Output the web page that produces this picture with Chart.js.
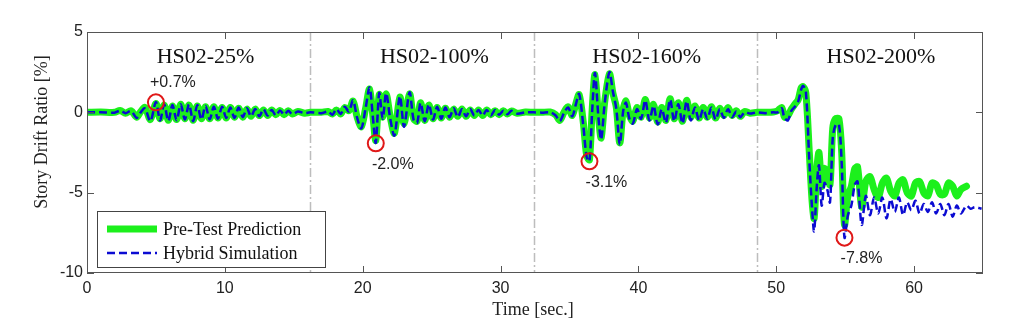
<!DOCTYPE html>
<html>
<head>
<meta charset="utf-8">
<script src="https://cdn.jsdelivr.net/npm/chart.js@4.4.1/dist/chart.umd.min.js"></script>
<style>
  html, body { margin: 0; padding: 0; background: #fff; }
</style>
</head>
<body>
<canvas id="driftChart" width="1024" height="322"></canvas>
<script>
// story drift time history (sec, %)
const timeSec = [
  0, 1.0, 2.0, 2.4, 2.8, 3.2, 3.6, 3.9, 4.2, 4.6,
  5.0, 5.3, 5.6, 5.9, 6.2, 6.5, 6.8, 7.1, 7.4, 7.7,
  8.0, 8.3, 8.6, 8.9, 9.2, 9.5, 9.8, 10.1, 10.4, 10.7,
  11.0, 11.3, 11.6, 11.9, 12.2, 12.5, 12.8, 13.1, 13.4, 13.7,
  14.0, 14.3, 14.6, 14.9, 15.3, 15.8, 16.2,
  17.0, 17.5, 17.8, 18.1, 18.4, 18.7, 19.0, 19.3, 19.6, 19.9,
  20.2, 20.5, 20.75, 20.95, 21.2, 21.45, 21.7, 22.0, 22.3, 22.7,
  23.0, 23.4, 23.7, 23.95, 24.2, 24.5, 24.8, 25.1, 25.4, 25.7,
  26.0, 26.3, 26.6, 26.9, 27.2, 27.5, 27.8, 28.1, 28.4, 28.7,
  29.0, 29.3, 29.6, 29.9, 30.2, 30.5, 30.8, 31.2, 31.8, 32.4,
  33.0, 33.6, 34.0, 34.3, 34.6, 34.9, 35.2, 35.45, 35.7, 36.0,
  36.25, 36.45, 36.65, 36.85, 37.1, 37.3, 37.55, 37.9, 38.15, 38.4,
  38.65, 38.9, 39.1, 39.35, 39.6, 39.9, 40.2, 40.5, 40.8, 41.1,
  41.4, 41.7, 42.0, 42.3, 42.6, 42.9, 43.2, 43.5, 43.8, 44.1,
  44.4, 44.7, 45.0, 45.3, 45.6, 45.9, 46.2, 46.5, 46.8, 47.1,
  47.4, 47.7, 48.1, 48.6,
  49.2, 49.8, 50.1, 50.4, 50.6, 50.85, 51.1, 51.35, 51.6, 51.8,
  51.95, 52.15, 52.4, 52.6, 52.75, 52.95, 53.1, 53.3, 53.5, 53.7,
  53.9, 54.1, 54.3, 54.55, 54.75, 54.95, 55.2, 55.45, 55.7, 55.9,
  56.2, 56.5, 56.8, 57.1, 57.4, 57.7, 58.0, 58.3, 58.6, 58.9,
  59.2, 59.5, 59.8, 60.1, 60.4, 60.7, 61.0, 61.3, 61.6, 61.9,
  62.2, 62.5, 62.8, 63.1, 63.4, 63.8, 64.1, 64.4, 64.9
];

const preTest = [
  0, 0.02, 0.0, 0.12, -0.05, 0.1, -0.3, 0.05, 0.3, -0.45,
  0.55, -0.4, 0.45, -0.5, 0.4, -0.45, 0.5, -0.4, 0.45, -0.5,
  0.4, -0.4, 0.35, -0.4, 0.35, -0.35, 0.3, -0.35, 0.3, -0.3,
  0.25, -0.3, 0.2, -0.25, 0.2, -0.2, 0.15, -0.2, 0.15, -0.15,
  0.12, -0.15, 0.1, -0.1, 0.05, -0.05, 0,
  0.0, 0.05, -0.1, 0.15, -0.1, 0.3, 0.1, 0.7, -0.3, -0.9,
  0.2, 1.45, -0.3, -1.75, 1.1, -0.3, 1.15, -0.3, -1.3, 0.95,
  -0.7, 1.15, -0.4, -0.55, 0.6, -0.5, 0.45, -0.4, 0.3, -0.35,
  0.25, -0.3, 0.2, -0.25, 0.2, -0.25, 0.15, -0.2, 0.15, -0.2,
  0.15, -0.15, 0.1, -0.15, 0.1, -0.1, 0.08, -0.05, 0.02, 0,
  0, 0.02, -0.15, -0.5, 0.0, 0.35, -0.2, 0.5, 1.1, -0.6,
  -2.7, -2.95, 0.2, 2.35, -0.2, -1.6, 0.6, 2.4, 1.2, 0.3,
  -1.9, 0.2, 0.7, -0.2, -0.55, 0.3, -0.3, 0.8, -0.35, 0.5,
  -0.6, 0.3, -0.5, 0.85, -0.4, 0.6, -0.55, 0.75, -0.3, 0.4,
  -0.35, 0.3, -0.3, 0.35, -0.35, 0.25, -0.2, 0.3, -0.2, 0.1,
  -0.25, 0.05, -0.05, 0,
  0, 0.02, 0.1, 0.3, -0.3, -0.2, 0.2, 0.5, 0.8, 1.5,
  1.6, 1.2, -2.5, -5.5, -6.6, -3.5, -2.5, -4.6, -3.5, -3.8,
  -4.5, -1.0, -0.4, -0.4, -2.5, -7.0, -5.2, -4.6, -3.5, -3.4,
  -5.9, -4.3, -4.0, -4.8, -5.3, -4.4, -4.1, -4.9, -5.2, -4.4,
  -4.2, -5.0, -5.2, -4.4, -4.3, -5.0, -5.2, -4.4, -4.5, -5.1,
  -5.1, -4.4, -4.6, -5.2, -4.8, -4.6, null, null, null
];

const hybridSim = [
  0, 0.0, -0.02, 0.1, -0.05, 0.08, -0.35, 0.0, 0.25, -0.55,
  0.65, -0.5, 0.5, -0.55, 0.45, -0.5, 0.5, -0.45, 0.5, -0.55,
  0.45, -0.45, 0.4, -0.45, 0.35, -0.4, 0.35, -0.35, 0.3, -0.35,
  0.3, -0.3, 0.25, -0.25, 0.2, -0.25, 0.2, -0.2, 0.15, -0.2,
  0.12, -0.15, 0.1, -0.12, 0.05, -0.05, 0,
  -0.05, 0.05, -0.15, 0.2, -0.1, 0.35, 0.05, 0.75, -0.35, -1.0,
  0.2, 1.55, -0.4, -1.9, 1.2, -0.4, 1.2, -0.4, -1.45, 1.0,
  -0.9, 1.25, -0.5, -0.65, 0.6, -0.55, 0.5, -0.45, 0.35, -0.4,
  0.3, -0.3, 0.25, -0.3, 0.2, -0.25, 0.2, -0.2, 0.15, -0.2,
  0.15, -0.2, 0.15, -0.15, 0.1, -0.12, 0.1, -0.08, 0.0, 0,
  -0.02, 0.0, -0.2, -0.55, -0.05, 0.3, -0.25, 0.45, 1.15, -0.8,
  -2.8, -3.05, 0.1, 2.45, -0.3, -1.7, 0.5, 2.5, 1.3, 0.2,
  -2.0, 0.1, 0.6, -0.4, -0.7, 0.2, -0.4, 0.75, -0.5, 0.4,
  -0.75, 0.2, -0.65, 0.8, -0.55, 0.5, -0.7, 0.7, -0.5, 0.3,
  -0.5, 0.2, -0.4, 0.3, -0.45, 0.2, -0.35, 0.2, -0.3, 0.05,
  -0.3, 0.0, -0.08, 0,
  -0.05, 0.0, 0.0, 0.25, -0.35, -0.5, 0.1, 0.35, 0.7, 1.4,
  1.65, 1.3, -3.0, -6.0, -7.4, -4.5, -3.3, -5.8, -4.4, -4.8,
  -5.6, -1.6, -0.8, -0.75, -3.2, -7.8, -6.4, -5.8, -4.5, -4.3,
  -7.0, -5.2, -6.4, -5.3, -6.3, -5.3, -6.6, -5.4, -6.2, -5.3,
  -6.4, -5.6, -6.1, -5.5, -6.3, -5.7, -6.2, -5.6, -6.3, -5.7,
  -6.4, -5.7, -6.5, -5.8, -6.3, -5.8, -6.0, -5.9, -6.0
];

// axis ticks
const xTicks = [0, 10, 20, 30, 40, 50, 60];
const yTicks = [-10, -5, 0, 5];

// test stages
const stageBounds = [16.2, 32.4, 48.6];
const stageNames = ["HS02-25%", "HS02-100%", "HS02-160%", "HS02-200%"];
const stageMid = [8.6, 25.2, 40.6, 57.6];

// marked peak drifts
const peakTime = [5.0, 20.95, 36.45, 54.95];
const peakValue = [0.62, -1.93, -3.05, -7.8];
const peakText = ["+0.7%", "-2.0%", "-3.1%", "-7.8%"];

const GREEN = "#1cf01c";
const BLUE = "#0b0bd2";
const SERIF = "'Liberation Serif', 'Times New Roman', serif";
const SANS = "'Liberation Sans', Arial, sans-serif";

// frame, stage separators, labels and legend drawn around the datasets
const figurePlugin = {
  id: "figure",
  beforeDatasetsDraw(chart) {
    const { ctx, chartArea: a, scales: { x } } = chart;
    ctx.save();
    ctx.strokeStyle = "#bdbdbd";
    ctx.lineWidth = 1.5;
    ctx.setLineDash([9, 3, 2, 3]);
    stageBounds.forEach((t) => {
      const px = Math.round(x.getPixelForValue(t)) + 0.5;
      ctx.beginPath();
      ctx.moveTo(px, a.top);
      ctx.lineTo(px, a.bottom);
      ctx.stroke();
    });
    ctx.restore();
  },
  afterDatasetsDraw(chart) {
    const { ctx, chartArea: a, scales: { x, y } } = chart;
    ctx.save();

    // box + inward ticks on all sides
    ctx.strokeStyle = "#555";
    ctx.lineWidth = 1;
    ctx.strokeRect(a.left + 0.5, a.top + 0.5, a.right - a.left - 1, a.bottom - a.top - 1);
    ctx.beginPath();
    xTicks.forEach((t) => {
      const px = Math.round(x.getPixelForValue(t)) + 0.5;
      ctx.moveTo(px, a.bottom); ctx.lineTo(px, a.bottom - 7);
      ctx.moveTo(px, a.top); ctx.lineTo(px, a.top + 7);
    });
    yTicks.forEach((v) => {
      const py = Math.round(y.getPixelForValue(v)) + 0.5;
      ctx.moveTo(a.left, py); ctx.lineTo(a.left + 7, py);
      ctx.moveTo(a.right, py); ctx.lineTo(a.right - 7, py);
    });
    ctx.stroke();

    // stage names
    ctx.fillStyle = "#111";
    ctx.font = "22px " + SERIF;
    ctx.textAlign = "center";
    ctx.textBaseline = "middle";
    stageNames.forEach((s, i) => {
      ctx.fillText(s, x.getPixelForValue(stageMid[i]), 57);
    });

    // peak labels
    ctx.font = "16px " + SANS;
    ctx.fillStyle = "#222";
    peakText.forEach((s, i) => {
      const px = x.getPixelForValue(peakTime[i]) + 17;
      const py = y.getPixelForValue(peakValue[i]) + (peakValue[i] > 0 ? -20 : 21);
      ctx.fillText(s, px, py);
    });

    // axis titles
    ctx.fillStyle = "#222";
    ctx.font = "18px " + SERIF;
    ctx.fillText("Time [sec.]", (a.left + a.right) / 2 - 2, 310);
    ctx.save();
    ctx.translate(42, 132);
    ctx.rotate(-Math.PI / 2);
    ctx.fillText("Story Drift Ratio [%]", 0, 0);
    ctx.restore();

    // legend
    const lx = 97, ly = 211, lw = 228, lh = 56;
    ctx.fillStyle = "#fff";
    ctx.fillRect(lx, ly, lw, lh);
    ctx.strokeStyle = "#444";
    ctx.lineWidth = 1;
    ctx.strokeRect(lx + 0.5, ly + 0.5, lw, lh);
    const ds = chart.data.datasets;
    [0, 1].forEach((k) => {
      const row = ly + 18 + k * 24;
      ctx.beginPath();
      ctx.strokeStyle = ds[k].borderColor;
      ctx.lineWidth = ds[k].borderWidth;
      ctx.setLineDash(ds[k].borderDash || []);
      ctx.moveTo(lx + 10, row);
      ctx.lineTo(lx + 60, row);
      ctx.stroke();
      ctx.setLineDash([]);
      ctx.fillStyle = "#111";
      ctx.font = "18px " + SERIF;
      ctx.textAlign = "left";
      ctx.fillText(ds[k].label, lx + 66, row + 1);
    });
    ctx.restore();
  },
};

const ctx = document.getElementById("driftChart").getContext("2d");
new Chart(ctx, {
  type: "line",
  data: {
    datasets: [
      {
        label: "Pre-Test Prediction",
        data: timeSec.map((t, i) => ({ x: t, y: preTest[i] })),
        borderColor: GREEN,
        borderWidth: 7,
        borderJoinStyle: "round",
        borderCapStyle: "round",
        pointRadius: 0,
        tension: 0.3,
        order: 3,
      },
      {
        label: "Hybrid Simulation",
        data: timeSec.map((t, i) => ({ x: t, y: hybridSim[i] })),
        borderColor: BLUE,
        borderWidth: 2.5,
        borderDash: [8, 4],
        borderJoinStyle: "round",
        pointRadius: 0,
        tension: 0.3,
        order: 2,
      },
      {
        label: "peaks",
        data: peakTime.map((t, i) => ({ x: t, y: peakValue[i] })),
        showLine: false,
        pointRadius: 8,
        pointBorderWidth: 2,
        pointBorderColor: "#e01818",
        pointBackgroundColor: "rgba(0,0,0,0)",
        order: 1,
      },
    ],
  },
  options: {
    responsive: false,
    animation: false,
    devicePixelRatio: 1,
    layout: { padding: { top: 32, right: 41, left: 0, bottom: 0 } },
    plugins: { legend: { display: false }, tooltip: { enabled: false } },
    scales: {
      x: {
        type: "linear",
        min: 0,
        max: 65,
        grid: { display: false, drawTicks: false },
        border: { display: false },
        afterFit: (s) => { s.height = 49; },
        afterBuildTicks: (s) => { s.ticks = xTicks.map((v) => ({ value: v })); },
        ticks: { font: { family: SANS, size: 16 }, color: "#222", padding: 6, maxRotation: 0 },
      },
      y: {
        min: -10,
        max: 5,
        grid: { display: false, drawTicks: false },
        border: { display: false },
        afterFit: (s) => { s.width = 87; },
        afterBuildTicks: (s) => { s.ticks = yTicks.map((v) => ({ value: v })); },
        ticks: { font: { family: SANS, size: 16 }, color: "#222", padding: 4 },
      },
    },
  },
  plugins: [figurePlugin],
});
</script>
</body>
</html>
